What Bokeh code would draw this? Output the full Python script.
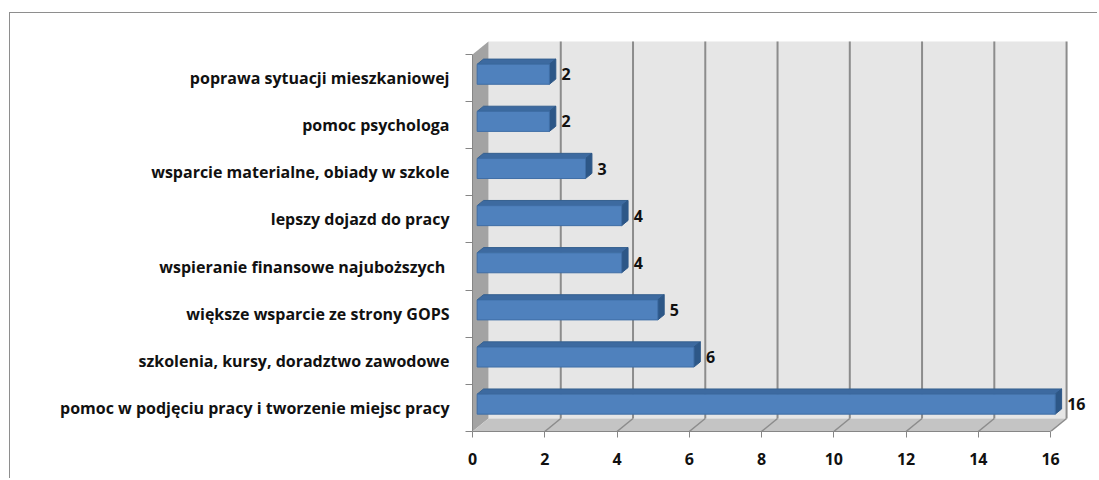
from bokeh.plotting import figure
from bokeh.models import FixedTicker, Range1d, ColumnDataSource
from bokeh.embed import file_html
from bokeh.resources import INLINE
from bokeh.core.properties import value

# ---- data (bottom to top) ----
categories = [
    "pomoc w podjęciu pracy i tworzenie miejsc pracy",
    "szkolenia, kursy, doradztwo zawodowe",
    "większe wsparcie ze strony GOPS",
    "wspieranie finansowe najuboższych ",
    "lepszy dojazd do pracy",
    "wsparcie materialne, obiady w szkole",
    "pomoc psychologa",
    "poprawa sytuacji mieszkaniowej",
]
counts = [16, 6, 5, 4, 4, 3, 2, 2]
x_ticks = [0, 2, 4, 6, 8, 10, 12, 14, 16]

# ---- 3D style constants (in data units) ----
DX, DY = 0.443, 0.276          # full depth offset of the back wall
FRONT = 0.29                   # bar front face depth fraction
BDEPTH = 0.40                  # bar depth fraction
HALF = 0.212                   # half height of bar front face

n = len(categories)
xmax = x_ticks[-1]

FONT = "Open Sans"
FSIZE = "16px"
GRID = "#8c8c8c"

p = figure(width=1088, height=466,
           x_range=Range1d(0, 17.216), y_range=Range1d(0, 8.509),
           output_backend="svg", toolbar_location=None,
           min_border_left=462, min_border_right=4,
           min_border_top=17, min_border_bottom=48)
p.grid.visible = False
p.outline_line_color = None
p.background_fill_color = "white"
p.border_fill_color = "white"
p.styles = {"border-top": "1px solid #8e8e8e", "border-left": "1px solid #8e8e8e",
            "margin-top": "12px", "margin-left": "9px"}

# back wall
p.quad(left=[DX], right=[xmax + DX], bottom=[DY], top=[n + DY],
       fill_color="#e6e6e6", line_color=None)
# side wall
p.patch([0, 0, DX, DX], [0, n, n + DY, DY], fill_color="#a3a3a3", line_color=None)
# floor
p.patch([0, xmax, xmax + DX, DX], [0, 0, DY, DY], fill_color="#c4c4c4", line_color=None)

# gridlines on wall and floor
gx = [t for t in x_ticks if t > 0]
p.segment(x0=[t + DX for t in gx], y0=[DY] * len(gx), x1=[t + DX for t in gx],
          y1=[n + DY] * len(gx), line_color=GRID, line_width=2)
p.segment(x0=gx, y0=[0] * len(gx), x1=[t + DX for t in gx], y1=[DY] * len(gx),
          line_color=GRID, line_width=1.5)

# bars
fx, fy = FRONT * DX, FRONT * DY
bx, by = BDEPTH * DX, BDEPTH * DY
front_l, front_r, front_b, front_t = [], [], [], []
top_xs, top_ys, side_xs, side_ys = [], [], [], []
lab_x, lab_y = [], []
for i, v in enumerate(counts):
    c = i + 0.5 + fy
    b, t = c - HALF, c + HALF
    l, r = fx, v + fx
    front_l.append(l); front_r.append(r); front_b.append(b); front_t.append(t)
    top_xs.append([l, r, r + bx, l + bx]); top_ys.append([t, t, t + by, t + by])
    side_xs.append([r, r, r + bx, r + bx]); side_ys.append([b, t, t + by, b + by])
    lab_x.append(r); lab_y.append(c)

p.patches(top_xs, top_ys, fill_color="#3d6aa0", line_color="#35608f", line_width=1)
p.patches(side_xs, side_ys, fill_color="#2d5787", line_color="#2d5787", line_width=1)
p.quad(left=front_l, right=front_r, bottom=front_b, top=front_t,
       fill_color="#4f81bd", line_color="#3f6ea6", line_width=1)

src = ColumnDataSource(dict(x=lab_x, y=lab_y, t=[str(v) for v in counts]))
p.text(x="x", y="y", text="t", source=src, x_offset=12, text_baseline="middle",
       text_align="left", text_font=value(FONT), text_font_style="bold",
       text_font_size=FSIZE, text_color="#111111")

# axes
xa = p.xaxis[0]
xa.ticker = FixedTicker(ticks=x_ticks, minor_ticks=[])
xa.bounds = (0, xmax)
xa.major_tick_in = 0
xa.major_tick_out = 6
xa.minor_tick_out = 0
xa.axis_line_color = "#868686"
xa.major_tick_line_color = "#868686"
xa.major_label_standoff = 15
xa.major_label_text_font = FONT
xa.major_label_text_font_style = "bold"
xa.major_label_text_font_size = FSIZE
xa.major_label_text_color = "#111111"

ya = p.yaxis[0]
centers = [i + 0.5 for i in range(n)]
ya.ticker = FixedTicker(ticks=centers, minor_ticks=list(range(n + 1)))
ya.major_label_overrides = {c: lab for c, lab in zip(centers, categories)}
ya.bounds = (0, n)
ya.major_tick_in = 0
ya.major_tick_out = 0
ya.minor_tick_in = 0
ya.minor_tick_out = 7
ya.axis_line_color = "#868686"
ya.minor_tick_line_color = "#868686"
ya.major_label_standoff = 16
ya.major_label_text_font = FONT
ya.major_label_text_font_style = "bold"
ya.major_label_text_font_size = FSIZE
ya.major_label_text_color = "#111111"

open("out.html", "w").write(file_html(p, INLINE))
